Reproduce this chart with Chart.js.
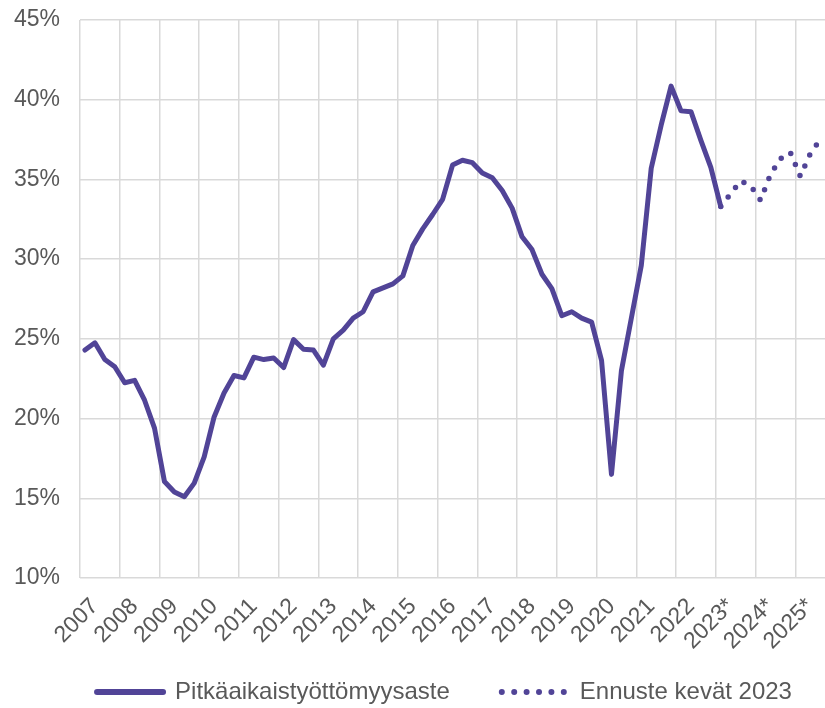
<!DOCTYPE html>
<html>
<head>
<meta charset="utf-8">
<script src="https://cdn.jsdelivr.net/npm/chart.js@4.4.1/dist/chart.umd.min.js"></script>
<style>
  html, body { margin: 0; padding: 0; background: #ffffff; overflow: hidden; }
  #wrap { width: 825px; height: 708px; position: relative; overflow: hidden; }
  #c { display: block; }
</style>
</head>
<body>
<div id="wrap"><canvas id="c" width="835" height="708"></canvas></div>
<script>
// ---- data ----
const years = ['2007','2008','2009','2010','2011','2012','2013','2014','2015','2016',
               '2017','2018','2019','2020','2021','2022','2023*','2024*','2025*'];
const quarters = ['Q1','Q2','Q3','Q4'];

// Long-term unemployment rate, quarterly 2007Q1 - 2023Q1 (%)
const actualValues = [
  24.3, 24.75, 23.7, 23.25,   // 2007
  22.25, 22.4, 21.15, 19.4,   // 2008
  16.05, 15.4, 15.1, 15.95,   // 2009
  17.6, 20.1, 21.6, 22.7,     // 2010
  22.55, 23.85, 23.7, 23.8,   // 2011
  23.2, 24.95, 24.35, 24.3,   // 2012
  23.35, 25.0, 25.55, 26.3,   // 2013
  26.7, 27.95, 28.2, 28.45,   // 2014
  28.95, 30.85, 31.9, 32.8,   // 2015
  33.75, 35.9, 36.2, 36.05,   // 2016
  35.4, 35.1, 34.3, 33.2,     // 2017
  31.4, 30.6, 29.05, 28.15,   // 2018
  26.45, 26.7, 26.3, 26.05,   // 2019
  23.65, 16.5, 23.0, 26.3,    // 2020
  29.6, 35.7, 38.4, 40.85,    // 2021
  39.3, 39.25, 37.45, 35.75,  // 2022
  33.3                        // 2023Q1
];
// Forecast (spring 2023), 2023Q1 - 2025Q3 (%)
const forecastValues = [33.3, 34.1, 34.9, 34.6, 33.7, 35.3, 36.3, 36.7, 35.2, 36.6, 37.5];
const forecastStartIndex = 64;

const seriesNames = ['Pitkäaikaistyöttömyysaste', 'Ennuste kevät 2023'];
const yMin = 10, yMax = 45, yStep = 5;

// ---- derived tables ----
const categories = [];
years.forEach(y => quarters.forEach(q => categories.push(y + ' ' + q)));
const actualSeries = categories.map((_, i) => (i < actualValues.length ? actualValues[i] : null));
const forecastSeries = categories.map((_, i) => {
  const k = i - forecastStartIndex;
  return (k >= 0 && k < forecastValues.length) ? forecastValues[k] : null;
});

// ---- style ----
const LINE = '#514497';
const GRID = '#d9d9d9';
const TEXT = '#595959';
const FONT = "'Liberation Sans', Arial, sans-serif";
const PLOT_TOP = 20;

const layoutTweaks = {
  id: 'layoutTweaks',
  afterLayout(chart) {
    const lg = chart.legend;
    if (lg) {
      const dx = 27, dy = 6;
      lg.left += dx; lg.right += dx; lg.top += dy; lg.bottom += dy;
    }
    const ca = chart.chartArea;
    const ys = chart.scales.y;
    if (ys && ca) {
      ca.top = PLOT_TOP; ca.height = ca.bottom - ca.top;
      ys.top = PLOT_TOP; ys.height = ys.bottom - ys.top;
      ys.configure();
    }
    const xs = chart.scales.x;
    if (xs) { xs.bottom = xs.top + 95; } // let rotated labels extend without clipping
  }
};

new Chart(document.getElementById('c'), {
  type: 'line',
  data: {
    labels: categories,
    datasets: [
      {
        label: seriesNames[0],
        data: actualSeries,
        borderColor: LINE,
        backgroundColor: LINE,
        borderWidth: 5,
        pointRadius: 0,
        pointHoverRadius: 0,
        borderJoinStyle: 'round',
        borderCapStyle: 'round',
        tension: 0,
        spanGaps: false
      },
      {
        label: seriesNames[1],
        data: forecastSeries,
        borderColor: LINE,
        backgroundColor: LINE,
        borderWidth: 5.5,
        borderDash: [0, 12],
        borderCapStyle: 'round',
        borderJoinStyle: 'round',
        pointRadius: 0,
        pointHoverRadius: 0,
        tension: 0
      }
    ]
  },
  options: {
    responsive: false,
    devicePixelRatio: 1,
    animation: false,
    events: [],
    layout: { padding: { left: 0, right: 0, top: 6, bottom: 0 } },
    plugins: {
      tooltip: { enabled: false },
      title: { display: false },
      legend: {
        display: true,
        position: 'bottom',
        align: 'center',
        labels: {
          color: TEXT,
          font: { family: FONT, size: 24 },
          usePointStyle: true,
          pointStyleWidth: 66,
          padding: 52,
          generateLabels: () => [
            { text: seriesNames[0], fillStyle: LINE, strokeStyle: LINE, lineWidth: 6,
              lineDash: [], lineCap: 'round', pointStyle: 'line', datasetIndex: 0, hidden: false, fontColor: TEXT },
            { text: seriesNames[1], fillStyle: LINE, strokeStyle: LINE, lineWidth: 6,
              lineDash: [0, 12.4], lineCap: 'round', pointStyle: 'line', datasetIndex: 1, hidden: false, fontColor: TEXT }
          ]
        }
      }
    },
    scales: {
      x: {
        type: 'category',
        offset: true,
        border: { display: false },
        grid: {
          offset: true,
          drawTicks: false,
          lineWidth: 1.5,
          color: (ctx) => (ctx.index % 4 === 0 ? GRID : 'rgba(0,0,0,0)')
        },
        ticks: {
          autoSkip: false,
          minRotation: 45,
          maxRotation: 45,
          padding: 15,
          labelOffset: 0,
          color: TEXT,
          font: { family: FONT, size: 23 },
          callback: (val, idx) => (idx % 4 === 1 ? years[Math.floor(idx / 4)] : '')
        },
        afterFit: (scale) => { scale.height = 44; scale.paddingLeft = 0; scale.paddingRight = 0; }
      },
      y: {
        type: 'linear',
        min: yMin,
        max: yMax,
        border: { display: false },
        grid: { color: GRID, lineWidth: 1.5, drawTicks: false },
        ticks: {
          stepSize: yStep,
          padding: 20,
          color: TEXT,
          font: { family: FONT, size: 23 },
          callback: (v) => v + '%'
        },
        afterFit: (scale) => { scale.width = 80; }
      }
    }
  },
  plugins: [layoutTweaks]
});
</script>
</body>
</html>
